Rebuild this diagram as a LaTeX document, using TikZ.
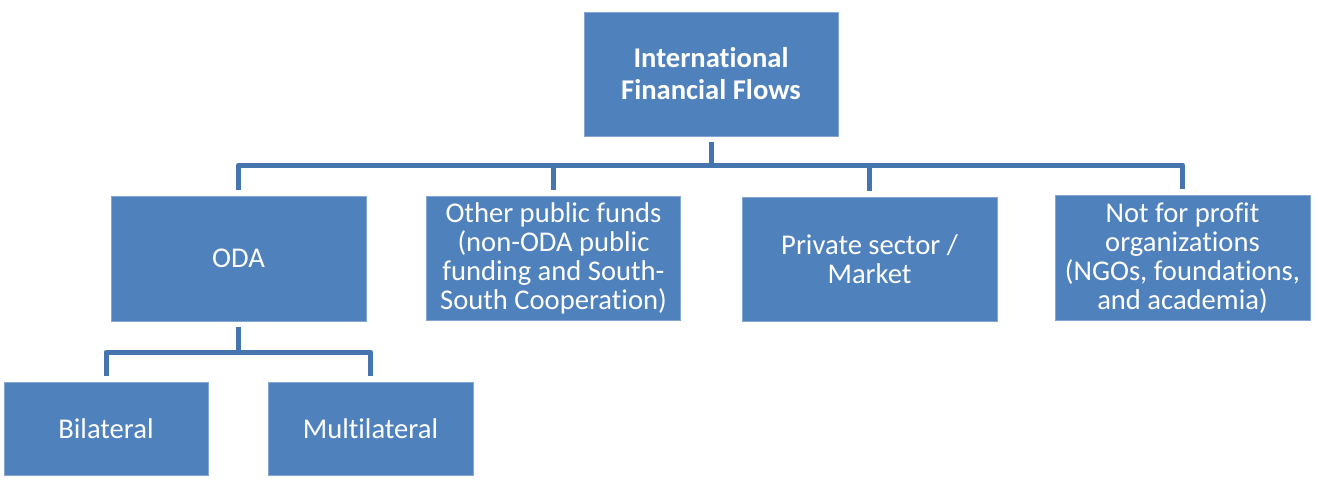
\documentclass[tikz,border=0pt]{standalone}
\usepackage{fontspec}
\setmainfont{Carlito}[Ligatures=NoCommon]
\definecolor{boxblue}{HTML}{4F81BD}
\definecolor{connblue}{HTML}{4674AE}
\begin{document}
\begin{tikzpicture}[x=1pt,y=-1pt,
  box/.style={rectangle, fill=boxblue, draw=boxblue!70!white, line width=0.6pt, text=white, align=center, inner sep=0pt,
    font=\fontsize{28.6}{28.8}\selectfont},
  conn/.style={draw=connblue, line width=5pt, line join=round}]
\useasboundingbox[fill=white] (0,0) rectangle (1318,482);
\node[box, minimum width=254pt, minimum height=124pt, font=\bfseries\fontsize{28.6}{32}\selectfont] (top) at (711,74) {International\\Financial Flows};
\node[box, minimum width=255pt, minimum height=125pt] (oda) at (238.5,258.5) {ODA};
\node[box, minimum width=254pt, minimum height=124pt] (other) at (553.5,258.5) {Other public funds\\(non-ODA public\\funding and South-\\South Cooperation)};
\node[box, minimum width=255pt, minimum height=124pt] (priv) at (869.5,259) {Private sector /\\Market};
\node[box, minimum width=255pt, minimum height=125pt] (nfp) at (1182.5,258) {Not for profit\\organizations\\(NGOs, foundations,\\and academia)};
\node[box, minimum width=204pt, minimum height=93pt] (bil) at (106,428.5) {Bilateral};
\node[box, minimum width=205pt, minimum height=93pt] (mul) at (370.5,428.5) {Multilateral};
\coordinate (bus) at (0,165);
\coordinate (bus2) at (0,352);
\draw[conn] ([yshift=-6pt]top.south) -- (top.south |- bus);
\draw[conn] ([yshift=6pt]oda.north) -- (oda.north |- bus) -- (nfp.north |- bus) -- ([yshift=6pt]nfp.north);
\draw[conn] (other.north |- bus) -- ([yshift=6pt]other.north);
\draw[conn] (priv.north |- bus) -- ([yshift=6pt]priv.north);
\draw[conn] ([yshift=-6pt]oda.south) -- (oda.south |- bus2);
\draw[conn] ([yshift=6pt]bil.north) -- (bil.north |- bus2) -- (mul.north |- bus2) -- ([yshift=6pt]mul.north);
\end{tikzpicture}
\end{document}
